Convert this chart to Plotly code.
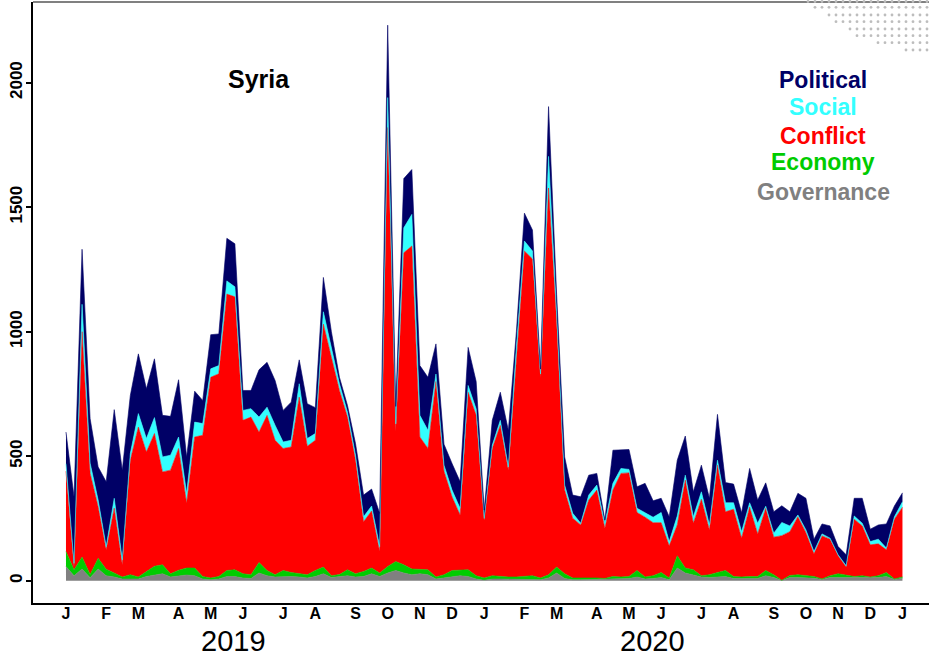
import pandas as pd
import plotly.graph_objects as go

# ---------------- data (weekly counts) ----------------
weeks = pd.date_range("2019-01-01", periods=105, freq="7D")

governance = [57, 20, 47, 12, 47, 20, 15, 7, 7, 7, 17, 24, 28, 15, 20, 23, 20, 7, 4, 7,
              17, 17, 11, 9, 31, 20, 15, 17, 17, 15, 11, 17, 28, 13, 16, 20, 15, 17, 28, 17,
              31, 41, 31, 24, 28, 24, 7, 11, 17, 20, 17, 7, 2, 7, 7, 7, 7, 7, 6, 4,
              11, 31, 9, 4, 4, 5, 4, 4, 7, 8, 9, 15, 7, 9, 13, 4, 51, 31, 24, 15,
              13, 15, 17, 9, 9, 9, 9, 20, 13, 1, 13, 13, 13, 10, 5, 13, 13, 13, 13, 13,
              10, 13, 17, 5, 10]
economy = [60, 24, 48, 13, 43, 26, 16, 8, 17, 8, 20, 34, 36, 13, 22, 28, 31, 10, 7, 10,
           24, 27, 17, 15, 42, 21, 9, 24, 16, 13, 13, 24, 27, 7, 9, 24, 13, 20, 23, 14,
           26, 36, 33, 23, 19, 20, 8, 13, 24, 24, 27, 13, 9, 13, 10, 8, 8, 10, 14, 7,
           13, 24, 19, 7, 7, 8, 7, 5, 10, 7, 8, 26, 8, 11, 20, 7, 49, 20, 20, 5,
           11, 18, 24, 8, 6, 8, 8, 21, 11, 1, 8, 11, 7, 7, 2, 7, 15, 11, 4, 7,
           5, 7, 16, 2, 5]
conflict = [323, 11, 905, 407, 207, 78, 260, 49, 460, 602, 480, 533, 373, 416, 489, 260, 526, 567, 806, 814,
            1110, 1096, 616, 633, 524, 623, 540, 490, 504, 709, 516, 523, 975, 880, 739, 613, 456, 200, 229, 86,
            1763, 523, 1253, 1297, 530, 487, 785, 416, 296, 220, 713, 644, 233, 511, 607, 429, 885, 1307, 1272, 804,
            1553, 985, 336, 240, 213, 311, 353, 202, 347, 416, 416, 233, 240, 213, 200, 129, 124, 353, 187, 307,
            180, 431, 236, 270, 156, 278, 171, 250, 151, 179, 176, 233, 173, 91, 173, 147, 72, 31, 230, 200,
            129, 128, 91, 240, 280]
social = [30, 15, 110, 40, 27, 13, 40, 20, 27, 54, 54, 64, 60, 60, 46, 40, 60, 47, 34, 33,
          53, 40, 40, 34, 60, 33, 60, 26, 27, 54, 31, 27, 50, 30, 27, 20, 20, 20, 20, 20,
          120, 30, 100, 127, 87, 73, 30, 24, 27, 27, 27, 26, 6, 13, 20, 13, 40, 40, 32, 15,
          127, 40, 20, 20, 7, 20, 20, 20, 27, 20, 14, 17, 19, 22, 41, 17, 36, 20, 26, 30,
          20, 20, 36, 26, 26, 18, 43, 8, 16, 53, 23, 7, 11, 9, 8, 4, 4, 5, 13, 11,
          13, 19, 7, 10, 22]
political = [127, 267, 221, 179, 133, 260, 356, 360, 233, 240, 200, 236, 167, 156, 230, 146, 124, 93, 137, 127,
             171, 173, 80, 73, 190, 180, 180, 127, 153, 96, 140, 104, 138, 70, 26, 27, 47, 87, 68, 134,
             291, 70, 198, 180, 200, 213, 121, 84, 107, 107, 153, 110, 34, 100, 113, 147, 60, 112, 84, 20,
             200, 70, 113, 73, 106, 80, 47, 13, 133, 73, 80, 86, 117, 66, 57, 100, 224, 157, 100, 107,
             107, 184, 81, 75, 76, 138, 93, 94, 86, 67, 57, 87, 127, 50, 40, 49, 33, 44, 71, 100,
             50, 57, 97, 43, 36]

tick_weeks = [0, 5, 9, 14, 18, 22, 27, 31, 36, 40, 44, 48, 52,
              57, 61, 66, 70, 74, 79, 83, 88, 92, 96, 100, 104]
tick_labels = ["J", "F", "M", "A", "M", "J", "J", "A", "S", "O", "N", "D", "J",
               "F", "M", "A", "M", "J", "J", "A", "S", "O", "N", "D", "J"]
y_ticks = [0, 500, 1000, 1500, 2000]
years = ["2019", "2020"]
country = "Syria"

series_names = ["Governance", "Economy", "Conflict", "Social", "Political"]
series_values = [governance, economy, conflict, social, political]
series_colors = ["#808080", "#00CC00", "#FF0000", "#33FFFF", "#000066"]

# ---------------- figure ----------------
W, H = 929, 656
ML, MR, MT, MB = 33, 0, 2, 53
PW, PH = W - ML - MR, H - MT - MB


def px_x(p):
    return (p - ML) / PW


def px_y(p):
    return (H - MB - p) / PH


fig = go.Figure()
for name, vals, col in zip(series_names, series_values, series_colors):
    fig.add_trace(go.Scatter(
        x=weeks, y=vals, name=name, mode="lines",
        stackgroup="one", line=dict(color=col, width=0.6),
        fillcolor=col, showlegend=False, hoverinfo="skip",
    ))

week = pd.Timedelta(days=7)
x_left = weeks[0] - 4.1 * week
x_right = weeks[0] + 107.3 * week

font_family = "Liberation Sans, Arial, sans-serif"

fig.update_layout(
    width=W, height=H,
    margin=dict(l=ML, r=MR, t=MT, b=MB, pad=0, autoexpand=False),
    paper_bgcolor="white", plot_bgcolor="white",
    font=dict(family=font_family, color="black"),
    xaxis=dict(
        range=[x_left, x_right], automargin=False,
        tickmode="array",
        tickvals=[weeks[i] for i in tick_weeks],
        ticktext=tick_labels,
        ticks="", ticklen=0, ticklabelstandoff=-5,
        showgrid=False, zeroline=False,
        showline=True, linecolor="black", linewidth=1.5,
        tickfont=dict(size=16, family=font_family, weight="bold", color="black"),
    ),
    yaxis=dict(
        range=[-89.5, 2324], automargin=False,
        tickmode="array", tickvals=y_ticks,
        ticktext=[str(v) for v in y_ticks],
        tickangle=-90,
        ticks="outside", ticklen=5, tickwidth=1.5, tickcolor="black",
        ticklabelstandoff=-3,
        showgrid=False, zeroline=False,
        showline=True, linecolor="black", linewidth=1.5,
        tickfont=dict(size=17, family=font_family, weight="bold", color="black"),
    ),
)

shapes = [dict(type="line", xref="paper", yref="paper", x0=0, x1=1, y0=1, y1=1,
               line=dict(color="#808080", width=2))]

# decorative dot pattern in the top-right corner
dot_rows = [(1.5, 808), (7.3, 815), (15, 829), (21.7, 836), (29, 850), (35.7, 857), (42.7, 878), (50, 906)]
r = 1.4
for yy, xs in dot_rows:
    xx = xs
    while xx <= W - 1:
        shapes.append(dict(type="circle", xref="paper", yref="paper",
                           x0=px_x(xx - r), x1=px_x(xx + r),
                           y0=px_y(yy + r), y1=px_y(yy - r),
                           fillcolor="#BDBDBD", line=dict(width=0)))
        xx += 7
fig.update_layout(shapes=shapes)

annotations = [
    dict(text="<b>%s</b>" % country, x=px_x(259), y=px_y(79), xref="paper", yref="paper",
         showarrow=False, xanchor="center", yanchor="middle",
         font=dict(size=25, family=font_family, color="black")),
]
for label, xp in zip(years, [233, 652]):
    annotations.append(dict(text=label, x=px_x(xp), y=px_y(641), xref="paper", yref="paper",
                            showarrow=False, xanchor="center", yanchor="middle",
                            font=dict(size=29, family=font_family, color="black")))

legend_y = [80, 107, 136, 162, 192]
for (name, col), yp in zip(list(zip(series_names, series_colors))[::-1], legend_y):
    annotations.append(dict(text="<b>%s</b>" % name, x=px_x(823), y=px_y(yp),
                            xref="paper", yref="paper", showarrow=False,
                            xanchor="center", yanchor="middle",
                            font=dict(size=23, family=font_family, color=col)))
fig.update_layout(annotations=annotations)

fig.write_html(
    "out.html",
    config={"displayModeBar": False},
    post_script="document.body.style.margin='0px';document.body.style.overflow='hidden';",
)
